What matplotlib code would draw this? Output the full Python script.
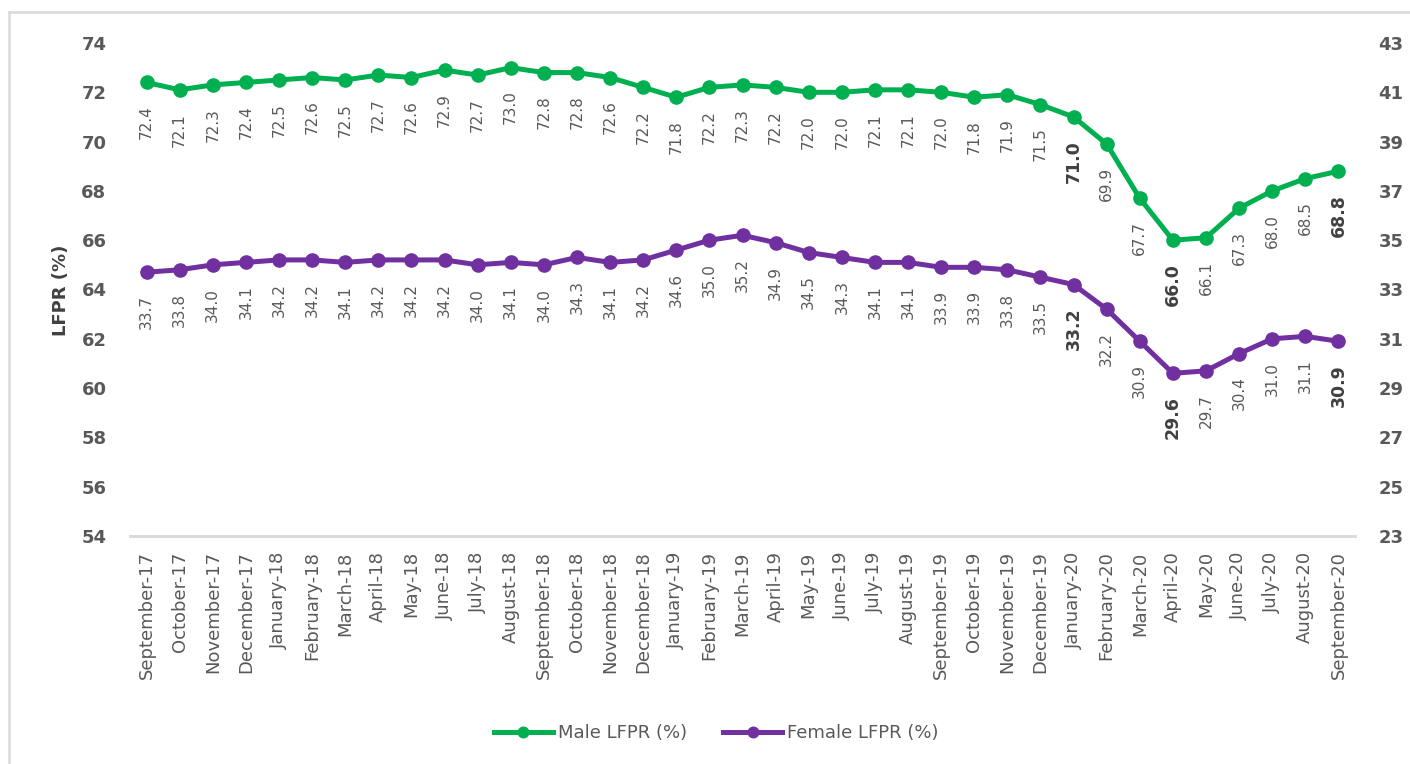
import matplotlib.pyplot as plt
from matplotlib.lines import Line2D

# monthly labour force participation rates, Sep 2017 - Sep 2020
months = [
    "September-17", "October-17", "November-17", "December-17",
    "January-18", "February-18", "March-18", "April-18", "May-18", "June-18",
    "July-18", "August-18", "September-18", "October-18", "November-18", "December-18",
    "January-19", "February-19", "March-19", "April-19", "May-19", "June-19",
    "July-19", "August-19", "September-19", "October-19", "November-19", "December-19",
    "January-20", "February-20", "March-20", "April-20", "May-20", "June-20",
    "July-20", "August-20", "September-20",
]
male_lfpr = [
    72.4, 72.1, 72.3, 72.4, 72.5, 72.6, 72.5, 72.7, 72.6, 72.9,
    72.7, 73.0, 72.8, 72.8, 72.6, 72.2, 71.8, 72.2, 72.3, 72.2,
    72.0, 72.0, 72.1, 72.1, 72.0, 71.8, 71.9, 71.5, 71.0, 69.9,
    67.7, 66.0, 66.1, 67.3, 68.0, 68.5, 68.8,
]
female_lfpr = [
    33.7, 33.8, 34.0, 34.1, 34.2, 34.2, 34.1, 34.2, 34.2, 34.2,
    34.0, 34.1, 34.0, 34.3, 34.1, 34.2, 34.6, 35.0, 35.2, 34.9,
    34.5, 34.3, 34.1, 34.1, 33.9, 33.9, 33.8, 33.5, 33.2, 32.2,
    30.9, 29.6, 29.7, 30.4, 31.0, 31.1, 30.9,
]
# months whose labels are emphasised
highlight = ["January-20", "April-20", "September-20"]

GREEN = "#00B050"
PURPLE = "#7030A0"
GREY = "#595959"
DARK = "#404040"

fig = plt.figure(figsize=(14.1, 7.64), dpi=100)
ax = fig.add_axes([130 / 1410, 1 - 536 / 764, 1225 / 1410, 493 / 764])
ax2 = ax.twinx()

x = list(range(len(months)))
ax.plot(x, male_lfpr, color=GREEN, lw=3.6, marker="o", ms=9.5, label="Male LFPR (%)", zorder=3)
ax2.plot(x, female_lfpr, color=PURPLE, lw=3.6, marker="o", ms=9.5, label="Female LFPR (%)", zorder=3)


def label_points(axis, values):
    for xi, (m, v) in enumerate(zip(months, values)):
        bold = m in highlight
        axis.annotate(f"{v:.1f}", (xi, v), xytext=(0, -16.5), textcoords="offset points",
                      rotation=90, ha="center", va="top",
                      fontsize=12.5 if bold else 11,
                      fontweight="bold" if bold else "normal",
                      color=DARK if bold else GREY)


label_points(ax, male_lfpr)
label_points(ax2, female_lfpr)

ax.set_xlim(-0.5, len(months) - 0.5)
ax.set_ylim(54, 74)
ax.set_yticks(range(54, 75, 2))
ax2.set_ylim(23, 43)
ax2.set_yticks(range(23, 44, 2))

ax.set_xticks(x)
ax.set_xticklabels(months, rotation=90, fontsize=13, color=GREY)
ax.tick_params(axis="x", length=0, pad=11)
ax.tick_params(axis="y", length=0, pad=17, labelsize=13, labelcolor=GREY)
ax2.tick_params(axis="y", length=0, pad=17, labelsize=13, labelcolor=GREY)
for lbl in ax.get_yticklabels() + ax2.get_yticklabels():
    lbl.set_fontweight("bold")

for a in (ax, ax2):
    for side in ("top", "left", "right"):
        a.spines[side].set_visible(False)
    a.spines["bottom"].set_color("#d9d9d9")
    a.spines["bottom"].set_linewidth(1.8)

fig.text(61 / 1410, 1 - 290 / 764, "LFPR (%)", rotation=90, ha="center", va="center",
         fontsize=13, fontweight="bold", color=DARK)

handles = ax.get_lines()[:1] + ax2.get_lines()[:1]
leg = fig.legend(handles, [h.get_label() for h in handles], loc="center",
                 bbox_to_anchor=(716 / 1410, 1 - 733 / 764), ncol=2, frameon=False,
                 fontsize=13, handlelength=3.3, handletextpad=0.25, columnspacing=2.0,
                 markerscale=0.8)
for t in leg.get_texts():
    t.set_color(GREY)

# outer chart frame (top and left edges)
fig.add_artist(Line2D([9 / 1410, 1], [1 - 12 / 764, 1 - 12 / 764], color="#d9d9d9", lw=1.8))
fig.add_artist(Line2D([9 / 1410, 9 / 1410], [0, 1 - 12 / 764], color="#d9d9d9", lw=1.8))

fig.savefig("out.png", dpi=100)
